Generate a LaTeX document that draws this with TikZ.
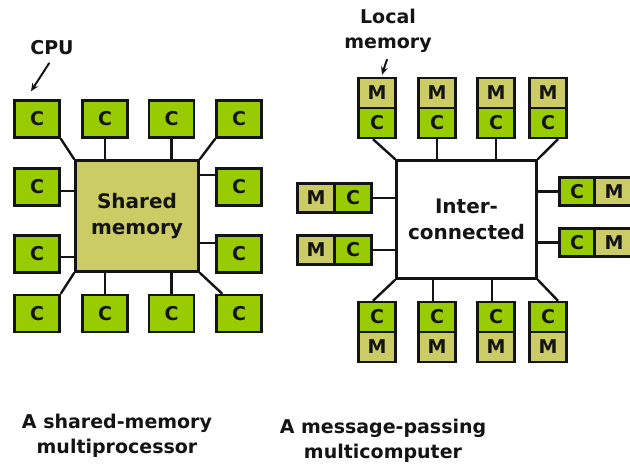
\documentclass[tikz,border=0pt]{standalone}
\usepackage{fontspec}
\setmainfont{DejaVu Sans}
\usetikzlibrary{positioning,arrows.meta}
\definecolor{cpugreen}{HTML}{99CC00}
\definecolor{memolive}{HTML}{CCCC66}
\definecolor{ink}{HTML}{141414}
\tikzset{
  unit/.style={draw=ink, line width=2.4pt, inner sep=0pt, text=ink,
    font=\bfseries\fontsize{19}{19}\selectfont},
  cpu/.style={unit, fill=cpugreen},
  mem/.style={unit, fill=memolive},
  link/.style={draw=ink, line width=2.4pt},
  label/.style={align=center, text=ink, font=\bfseries\fontsize{19}{25}\selectfont},
}

\begin{document}
\begin{tikzpicture}[x=1pt,y=-1pt]
    \useasboundingbox (0,0) rectangle (630,466);
    % shared-memory multiprocessor
    \foreach \n/\x/\y in {1/37/119, 2/105/119, 3/171.5/119, 4/239/119,
        5/37/187, 6/239/187, 7/37/254, 8/239/254,
        9/37/313.5, 10/105/313.5, 11/171.5/313.5, 12/239/313.5}
        \node[cpu, minimum width=45pt, minimum height=37pt] (c\n) at (\x,\y) {C};
    \node[mem, minimum width=123pt, minimum height=111pt, align=center,
        font=\bfseries\fontsize{20}{26}\selectfont] (shm) at (137,216) {Shared\\memory};
    \draw[link] (c1.south east) -- (shm.north west);
    \draw[link] (c2.south) -- (c2.south |- shm.north);
    \draw[link] (c3.south) -- (c3.south |- shm.north);
    \draw[link] (c4.south west) -- (shm.north east);
    \draw[link] ([yshift=-4pt]c5.east) -- ([yshift=-4pt]c5.east -| shm.west);
    \draw[link] ([yshift=12pt]c6.west) -- ([yshift=12pt]c6.west -| shm.east);
    \draw[link] ([yshift=-3pt]c7.east) -- ([yshift=-3pt]c7.east -| shm.west);
    \draw[link] ([yshift=11pt]c8.west) -- ([yshift=11pt]c8.west -| shm.east);
    \draw[link] (c9.north east) -- (shm.south west);
    \draw[link] (c10.north) -- (c10.north |- shm.south);
    \draw[link] (c11.north) -- (c11.north |- shm.south);
    \draw[link] ([xshift=7pt]c12.north west) -- (shm.south east);
    \node[label] (cpulbl) at (52,48) {CPU};
    \draw[link, line width=2pt, -{Stealth[length=8pt,width=7pt]}, shorten <=5pt]
        (cpulbl.south) -- ([xshift=-6pt,yshift=8pt]c1.north);
    \node[label] (leftcap) at (117,436) {A shared-memory\\multiprocessor};

    % message-passing multicomputer
    \node[draw=ink, fill=white, line width=2.4pt, minimum width=140pt, minimum height=118pt,
        align=center, text=ink, font=\bfseries\fontsize{20}{26}\selectfont]
        (inet) at (466.5,219.5) {Inter-\\connected};
    \foreach \n/\x in {1/377, 2/437, 3/496, 4/548} {
        \node[mem, minimum width=37pt, minimum height=30pt] (tm\n) at (\x,93) {M};
        \node[cpu, minimum width=37pt, minimum height=30pt, below=-2.4pt of tm\n] (tc\n) {C};
        \node[cpu, minimum width=37pt, minimum height=30pt] (bc\n) at (\x,317) {C};
        \node[mem, minimum width=37pt, minimum height=30pt, below=-2.4pt of bc\n] (bm\n) {M};
    }
    \foreach \n/\y in {1/198, 2/250} {
        \node[mem, minimum width=37pt, minimum height=29pt] (lm\n) at (316,\y) {M};
        \node[cpu, minimum width=37pt, minimum height=29pt, right=-2.4pt of lm\n] (lc\n) {C};
        \draw[link] (lc\n.east) -- (lc\n.east -| inet.west);
    }
    \foreach \n/\y in {1/191.5, 2/242.5} {
        \node[cpu, minimum width=35pt, minimum height=28pt] (rc\n) at (577,\y) {C};
        \node[mem, minimum width=39pt, minimum height=28pt, right=-2.4pt of rc\n] (rm\n) {M};
        \draw[link] (rc\n.west) -- (rc\n.west -| inet.east);
    }
    \draw[link] ([xshift=-4pt]tc1.south) -- (inet.north west);
    \draw[link] (tc2.south) -- (tc2.south |- inet.north);
    \draw[link] (tc3.south) -- (tc3.south |- inet.north);
    \draw[link] ([xshift=10pt]tc4.south) -- (inet.north east);
    \draw[link] ([xshift=-4pt]bc1.north) -- (inet.south west);
    \draw[link] ([xshift=-4pt]bc2.north) -- ([xshift=-4pt]bc2.north |- inet.south);
    \draw[link] ([xshift=-4pt]bc3.north) -- ([xshift=-4pt]bc3.north |- inet.south);
    \draw[link] ([xshift=10pt]bc4.north) -- (inet.south east);
    \node[label] (locallbl) at (388,31) {Local\\memory};
    \draw[link, line width=2pt, -{Stealth[length=8pt,width=7pt]}, shorten <=3pt]
        (locallbl.south) -- ([xshift=5pt,yshift=2pt]tm1.north);
    \node[label] (rightcap) at (383,441) {A message-passing\\multicomputer};
\end{tikzpicture}
\end{document}
